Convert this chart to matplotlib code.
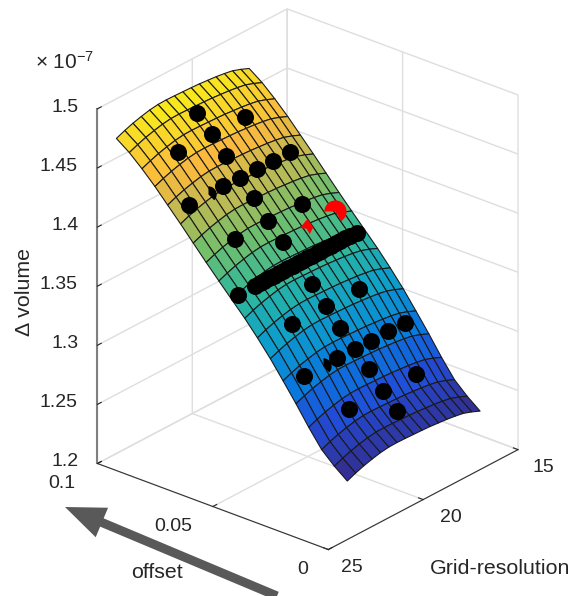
import numpy as np
from matplotlib import pyplot as plt
from matplotlib.colors import LinearSegmentedColormap, Normalize
from matplotlib.path import Path
from matplotlib.patches import FancyArrow
from matplotlib.transforms import IdentityTransform, Affine2D

plt.rcParams['font.family'] = ['Liberation Sans', 'DejaVu Sans']
plt.rcParams['mathtext.default'] = 'regular'

# surface, volume in units of 1e-7
grid_res = [17, 17.44, 17.88, 18.31, 18.75, 19.19, 19.63, 20.06, 20.5, 20.94, 21.38, 21.81, 22.25,
            22.69, 23.13, 23.56, 24]
offsets = [0, 0.0056, 0.0111, 0.0167, 0.0222, 0.0278, 0.0333, 0.0389, 0.0444, 0.05,
           0.0556, 0.0611, 0.0667, 0.0722, 0.0778, 0.0833, 0.0889, 0.0944, 0.1]
vol_by_offset = [1.2495, 1.258, 1.268, 1.2828, 1.2987, 1.314, 1.3287, 1.3423, 1.3548, 1.3665,
                 1.3782, 1.3899, 1.4022, 1.4144, 1.4263, 1.438, 1.4489, 1.4586, 1.4665]
vol_by_grid = [0, 0.003, 0.0055, 0.0068, 0.0078, 0.0085, 0.0092, 0.0096, 0.0099, 0.0102, 0.0104,
               0.0102, 0.0092, 0.0075, 0.0055, 0.003, 0]

# samples
pts_grid = [20.56, 18.86, 20.59, 22.42, 20.69, 18.09, 18.96, 19.81, 20.68, 21.55, 23.38, 20.74,
            18.95, 20.71, 20.68, 22.47, 20.76, 19.02, 20.75, 22.54, 20.68, 18.82, 17.97, 19.74,
            20.56, 21.48, 23.26, 20.47, 18.63, 20.37, 22.16, 20.32,
            23.88, 23, 22.75, 22.5, 22.25, 22, 21.75, 21.5, 21.25, 21, 20.75, 20.5, 20.25, 20,
            19.75, 19.5, 19.25, 19, 18.75, 18.5, 18.25, 18, 17.7]
pts_offset = [0.0932, 0.0864, 0.0865, 0.0862, 0.0796, 0.0733, 0.0735, 0.0734, 0.0736, 0.0738, 0.0735, 0.0671,
              0.061, 0.0613, 0.055, 0.0611, 0.0418, 0.0358, 0.0358, 0.0358, 0.0303, 0.0249, 0.0245, 0.0247,
              0.0248, 0.025, 0.0247, 0.0195, 0.0143, 0.0143, 0.0143, 0.0086,
              0.0482, 0.0482, 0.0482, 0.0482, 0.0482, 0.0482, 0.0482, 0.0482, 0.0482, 0.0482, 0.0482,
              0.0482, 0.0482, 0.0482, 0.0482, 0.0482, 0.0482, 0.0482, 0.0482, 0.0482, 0.0482, 0.0482, 0.0476]
pts_vol = [1.4643, 1.4513, 1.4513, 1.4513, 1.4385, 1.4245, 1.4245, 1.4245, 1.4245, 1.4245, 1.4245, 1.4125,
           1.3969, 1.3969, 1.384, 1.3969, 1.358, 1.344, 1.344, 1.344, 1.3285, 1.3142, 1.3142, 1.3142,
           1.3142, 1.3142, 1.3142, 1.3, 1.2845, 1.2845, 1.2845, 1.271,
           1.371, 1.371, 1.371, 1.371, 1.371, 1.371, 1.371, 1.371, 1.371, 1.371, 1.371,
           1.371, 1.371, 1.371, 1.371, 1.371, 1.371, 1.371, 1.371, 1.371, 1.371, 1.371, 1.371]
# the two black ones mostly hidden by the surface
hidden_grid = [22.34, 22.24]
hidden_offset = [0.0738, 0.0249]
hidden_vol = [1.4245, 1.3142]
# red ones
red_grid = [17.86, 19.31]
red_offset = [0.0557, 0.0559]
red_vol = [1.3853, 1.3853]

parula = LinearSegmentedColormap.from_list('parula', [
    (0.0, (.208, .166, .529)), (.14, (.13, .30, .85)), (.25, (.03, .47, .87)),
    (.375, (.05, .62, .80)), (.5, (.17, .72, .62)), (.625, (.45, .75, .42)),
    (.72, (.74, .73, .33)), (.82, (.98, .73, .24)), (.92, (.97, .86, .15)),
    (1.0, (.976, .984, .055))])

X, Y = np.meshgrid(grid_res, offsets)
Z = np.array(vol_by_offset)[:, None] + np.array(vol_by_grid)[None, :]

fig = plt.figure(figsize=(5.74, 5.96), dpi=100)
ax = fig.add_subplot(projection='3d', proj_type='ortho', computed_zorder=False)
ax.set_position([0.0226, 0.0185, 1, 1])
ax.view_init(elev=26.3, azim=220.07)
ax.set_box_aspect((295, 302, 396), zoom=0.978)

ax.plot_surface(X, Y, Z, rstride=1, cstride=1, cmap=parula, norm=Normalize(Z.min(), 1.485),
                shade=False, edgecolor=(.1, .1, .1), linewidth=0.8, zorder=1)

ax.scatter(pts_grid, pts_offset, pts_vol, c='k', s=150, linewidths=0, depthshade=False, zorder=2)
ax.plot(hidden_grid, hidden_offset, hidden_vol, ls='', color='k', ms=12, mew=0, zorder=2,
        marker=Path.wedge(-45, 90))
ax.plot(red_grid[:1], red_offset[:1], red_vol[:1], ls='', color='r', ms=16, mew=0, zorder=2,
        marker=Path.wedge(-60, 180))
ax.plot(red_grid[1:], red_offset[1:], red_vol[1:], ls='', color='r', ms=11, mew=0, zorder=2,
        marker=[(0, 1), (-1, -.2), (-.1, -.3), (.3, -1), (.75, -.1)])

ax.set_xlim(25, 15)
ax.set_ylim(0, 0.1)
ax.set_zlim(1.2, 1.5)
ax.set_xticks([15, 20, 25])
ax.set_yticks([0, 0.05, 0.1])
ax.set_yticklabels(['0', '0.05', '0.1'])
ax.set_zticks([1.2, 1.25, 1.3, 1.35, 1.4, 1.45, 1.5])
ax.set_zticklabels(['1.2', '1.25', '1.3', '1.35', '1.4', '1.45', '1.5'])
ax.tick_params(labelsize=14, labelcolor=(.15, .15, .15), color=(.15, .15, .15))

for axis in [ax.xaxis, ax.yaxis, ax.zaxis]:
    axis.set_pane_color((1, 1, 1, 0))
    axis.pane.set_edgecolor((.87, .87, .87))
    axis._axinfo['grid'].update(color=(.87, .87, .87), linewidth=1)
    axis._axinfo['tick'].update(inward_factor=0, outward_factor=0.25)
ax.xaxis.line.set_color((.2, .2, .2))
ax.yaxis.line.set_color((.2, .2, .2))
ax.zaxis.line.set_color((.5, .5, .5))
ax.zaxis.line.set_linewidth(1.5)

# get_major_ticks resets the label transforms on every draw, so nudge them in there (pixels)
def nudge(axis, dxs, dy):
    orig = axis.get_major_ticks
    def get_major_ticks(numticks=None):
        ticks = orig(numticks)
        for t, dx in zip(ticks, dxs):
            t.label1.set_transform(ax.transData + Affine2D().translate(dx, dy))
        return ticks
    axis.get_major_ticks = get_major_ticks

nudge(ax.zaxis, [-10, -16, -10, -16, -10, -16, -10], 11)
nudge(ax.xaxis, [13, 15, 11], 14)
nudge(ax.yaxis, [-15, -29, -25], 13)

fig.text(25 / 574, 1 - 292 / 596, '\u0394 volume', rotation=90, ha='center', va='center',
         fontsize=15.4, color=(.15, .15, .15))
fig.text(157 / 574, 1 - 573 / 596, 'offset', ha='center', va='center', fontsize=15.4, color=(.15, .15, .15))
fig.text(500 / 574, 1 - 569 / 596, 'Grid-resolution', ha='center', va='center', fontsize=15.4, color=(.15, .15, .15))
fig.text(35 / 574, 1 - 62 / 596, '\u00d7 10$^{-7}$', ha='left', va='center', fontsize=15, color=(.15, .15, .15))

fig.add_artist(FancyArrow(277, 0, -212, 89, width=9, head_width=32, head_length=40, length_includes_head=True,
                          color=(.35, .35, .35), lw=0, transform=IdentityTransform()))

plt.savefig('out.png', dpi=100)
